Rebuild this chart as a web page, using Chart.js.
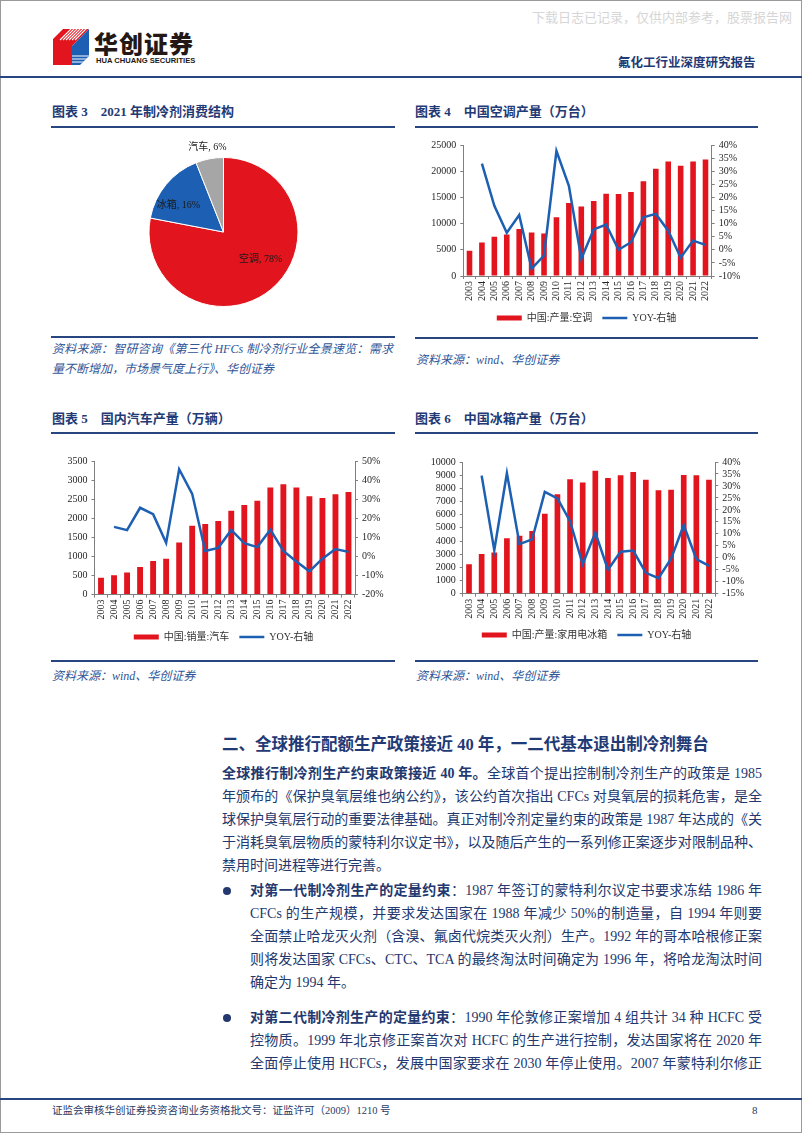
<!DOCTYPE html>
<html><head><meta charset="utf-8">
<script src="https://cdn.jsdelivr.net/npm/chart.js@4.4.1/dist/chart.umd.min.js"></script>
<style>
html,body{margin:0;padding:0;background:#fff;}
body{width:802px;height:1133px;position:relative;overflow:hidden;font-family:"Liberation Serif","Noto Sans CJK SC",serif;}
.frame{position:absolute;left:0;top:0;width:800px;height:1131px;border:1px solid #9a9a9a;}
.abs{position:absolute;white-space:nowrap;}
.hline{position:absolute;height:2px;background:#27457f;}
.title{position:absolute;font-family:"Liberation Serif","Noto Sans CJK SC";font-weight:700;font-size:13px;color:#1f3a75;line-height:16px;white-space:nowrap;}
.src{position:absolute;font-style:italic;font-size:12px;color:#2f5597;line-height:16px;white-space:nowrap;}
.body{position:absolute;font-size:14px;color:#22386e;line-height:23px;white-space:nowrap;font-weight:400;}
.j{text-align:justify;text-align-last:justify;}
.body b{font-weight:700;}
.dot{position:absolute;width:8px;height:8px;border-radius:50%;background:#22386e;}
canvas{position:absolute;}
</style></head>
<body>
<div class="frame"></div>
<div class="abs" style="left:532px;top:7px;font-family:'Noto Sans CJK SC';font-size:13px;color:#d6d6d6;">下载日志已记录，仅供内部参考，股票报告网</div>

<svg class="abs" style="left:52px;top:28px" width="40" height="40" viewBox="0 0 40 40">
  <defs>
    <clipPath id="cr"><polygon points="11,1 37,1 20,18 20,37 1,37 1,11"/></clipPath>
    <clipPath id="cb"><polygon points="20,18 37,1 37,28 28,37 20,37"/></clipPath>
  </defs>
  <polygon points="11,1 37,1 20,18 20,37 1,37 1,11" fill="#e2141d"/>
  <g clip-path="url(#cr)" stroke="#fff" stroke-width="1.1">
    <line x1="8" y1="12" x2="20" y2="0"/><line x1="11" y1="12" x2="23" y2="0"/><line x1="14" y1="12" x2="26" y2="0"/><line x1="17" y1="12" x2="29" y2="0"/><line x1="20" y1="12" x2="32" y2="0"/><line x1="23" y1="12" x2="35" y2="0"/>
  </g>
  <polygon points="20,18 37,1 37,28 28,37 20,37" fill="#1d5fb2"/>
  <g clip-path="url(#cb)" stroke="#fff" stroke-width="1.1">
    <line x1="20" y1="28" x2="37" y2="28"/><line x1="20" y1="31" x2="37" y2="31"/><line x1="20" y1="34" x2="37" y2="34"/>
  </g>
</svg>
<div class="abs" style="left:94px;top:28px;font-family:'Noto Sans CJK SC';font-weight:900;font-size:24px;line-height:30px;color:#231815;letter-spacing:1px;">华创证券</div>
<div class="abs" style="left:96px;top:57px;font-family:'Liberation Sans','DejaVu Sans';font-weight:700;font-size:7.6px;line-height:8px;color:#231815;">HUA CHUANG SECURITIES</div>
<div class="abs" style="left:618px;top:54px;font-family:'Noto Sans CJK SC';font-weight:700;font-size:12.5px;line-height:16px;color:#1f3a75;">氟化工行业深度研究报告</div>
<div class="hline" style="left:0;top:76px;width:802px;"></div>

<div class="title" style="left:52px;top:104px;">图表 3&nbsp;&nbsp;&nbsp;&nbsp;2021 年制冷剂消费结构</div>
<div class="title" style="left:415px;top:104px;">图表 4&nbsp;&nbsp;&nbsp;&nbsp;中国空调产量（万台）</div>
<div class="hline" style="left:51px;top:126px;width:344px;"></div>
<div class="hline" style="left:415px;top:126px;width:343px;"></div>

<canvas id="c3" style="left:52px;top:135px;width:343px;height:200px" width="343" height="200"></canvas>
<canvas id="c4" style="left:415px;top:135px;width:343px;height:198px" width="343" height="198"></canvas>

<div class="hline" style="left:51px;top:336px;width:344px;"></div>
<div class="hline" style="left:415px;top:337px;width:343px;"></div>
<div class="src j" style="left:52px;top:341px;width:341px;">资料来源：智研咨询《第三代 HFCs 制冷剂行业全景速览：需求</div>
<div class="src" style="left:52px;top:361px;">量不断增加，市场景气度上行》、华创证券</div>
<div class="src" style="left:416px;top:352px;">资料来源：wind、华创证券</div>

<div class="title" style="left:52px;top:411px;">图表 5&nbsp;&nbsp;&nbsp;&nbsp;国内汽车产量（万辆）</div>
<div class="title" style="left:415px;top:411px;">图表 6&nbsp;&nbsp;&nbsp;&nbsp;中国冰箱产量（万台）</div>
<div class="hline" style="left:51px;top:432px;width:344px;"></div>
<div class="hline" style="left:415px;top:432px;width:343px;"></div>

<canvas id="c5" style="left:52px;top:451px;width:343px;height:201px" width="343" height="201"></canvas>
<canvas id="c6" style="left:415px;top:452px;width:343px;height:198px" width="343" height="198"></canvas>

<div class="hline" style="left:51px;top:660px;width:344px;"></div>
<div class="hline" style="left:415px;top:660px;width:343px;"></div>
<div class="src" style="left:52px;top:668px;">资料来源：wind、华创证券</div>
<div class="src" style="left:416px;top:668px;">资料来源：wind、华创证券</div>

<div class="abs" style="left:222px;top:734px;font-family:'Liberation Serif','Noto Sans CJK SC';font-weight:700;font-size:16.5px;line-height:22px;color:#1f3a75;">二、全球推行配额生产政策接近 40 年，一二代基本退出制冷剂舞台</div>

<div class="body j" style="left:222px;top:762px;width:540px;"><b>全球推行制冷剂生产约束政策接近 40 年。</b>全球首个提出控制制冷剂生产的政策是 1985</div>
<div class="body j" style="left:222px;top:785px;width:540px;">年颁布的《保护臭氧层维也纳公约》，该公约首次指出 CFCs 对臭氧层的损耗危害，是全</div>
<div class="body j" style="left:222px;top:808px;width:540px;">球保护臭氧层行动的重要法律基础。真正对制冷剂定量约束的政策是 1987 年达成的《关</div>
<div class="body j" style="left:222px;top:831px;width:540px;">于消耗臭氧层物质的蒙特利尔议定书》，以及随后产生的一系列修正案逐步对限制品种、</div>
<div class="body" style="left:222px;top:854px;">禁用时间进程等进行完善。</div>

<div class="dot" style="left:223px;top:887px;"></div>
<div class="body j" style="left:250px;top:879px;width:512px;"><b>对第一代制冷剂生产的定量约束</b>：1987 年签订的蒙特利尔议定书要求冻结 1986 年</div>
<div class="body j" style="left:250px;top:902px;width:512px;">CFCs 的生产规模，并要求发达国家在 1988 年减少 50%的制造量，自 1994 年则要</div>
<div class="body j" style="left:250px;top:925px;width:512px;">全面禁止哈龙灭火剂（含溴、氟卤代烷类灭火剂）生产。1992 年的哥本哈根修正案</div>
<div class="body j" style="left:250px;top:948px;width:512px;">则将发达国家 CFCs、CTC、TCA 的最终淘汰时间确定为 1996 年，将哈龙淘汰时间</div>
<div class="body" style="left:250px;top:971px;">确定为 1994 年。</div>

<div class="dot" style="left:223px;top:1014px;"></div>
<div class="body j" style="left:250px;top:1006px;width:512px;"><b>对第二代制冷剂生产的定量约束</b>：1990 年伦敦修正案增加 4 组共计 34 种 HCFC 受</div>
<div class="body j" style="left:250px;top:1029px;width:512px;">控物质。1999 年北京修正案首次对 HCFC 的生产进行控制，发达国家将在 2020 年</div>
<div class="body j" style="left:250px;top:1052px;width:512px;">全面停止使用 HCFCs，发展中国家要求在 2030 年停止使用。2007 年蒙特利尔修正</div>

<div class="hline" style="left:0;top:1098px;width:802px;"></div>
<div class="abs" style="left:52px;top:1104px;font-size:10.5px;line-height:14px;color:#2a3a66;">证监会审核华创证券投资咨询业务资格批文号：证监许可（2009）1210 号</div>
<div class="abs" style="left:752px;top:1103px;font-size:11px;line-height:14px;color:#2a3a66;">8</div>

<script>
// ---------- DATA ----------
const years = ['2003','2004','2005','2006','2007','2008','2009','2010','2011','2012','2013','2014','2015','2016','2017','2018','2019','2020','2021','2022'];

const pieLabels = ['空调', '冰箱', '汽车'];
const pieValues = [78, 16, 6];

const acOutput = [4820, 6390, 7470, 7920, 8970, 8290, 8100, 11200, 13950, 13280, 14330, 15720, 15650, 16050, 18070, 20490, 21870, 21060, 21840, 22250];
const acYoy    = [null, 32.9, 16.8, 6.5, 13.3, -7.2, -2.2, 37.7, 24.4, -3.4, 7.8, 9.6, 0.0, 2.9, 12.4, 13.7, 7.3, -3.0, 3.5, 1.9];

const carSales = [439, 507, 576, 722, 879, 938, 1364, 1806, 1851, 1931, 2198, 2349, 2460, 2803, 2888, 2808, 2577, 2531, 2628, 2686];
const carYoy   = [null, 15.5, 13.8, 25.5, 22.1, 7.1, 45.7, 32.8, 2.8, 4.5, 13.9, 6.9, 4.9, 14.0, 2.9, -2.7, -7.8, -1.2, 3.9, 2.4];

const fridgeOutput = [2242, 3023, 3120, 4207, 4400, 4760, 6070, 7550, 8690, 8440, 9340, 8790, 8990, 9240, 8660, 7860, 7900, 9015, 8990, 8645];
const fridgeYoy    = [null, 34.3, 3.2, 35.3, 5.7, 7.7, 27.5, 24.8, 15.3, -2.7, 10.5, -5.0, 2.5, 3.0, -6.3, -8.5, -0.4, 13.7, -0.6, -3.4];

// axis ranges [min, max, step]
const acLeftRange = [0, 25000, 5000];
const acRightRange = [-10, 40, 5];
const carLeftRange = [0, 3500, 500];
const carRightRange = [-20, 50, 10];
const fridgeLeftRange = [0, 10000, 1000];
const fridgeRightRange = [-15, 40, 5];

const barLabels = ['中国:产量:空调', '中国:销量:汽车', '中国:产量:家用电冰箱'];
const lineLabel = 'YOY-右轴';

// ---------- STYLE ----------
const RED = '#e2141d', BLUE = '#1d5fb2', GRAY = '#a6a6a6';
const FONT = '"Liberation Serif","Noto Sans CJK SC",serif';
const TXT = '#262626', AXIS = '#7f7f7f';

// ---------- PIE ----------
const pieLabelPos = [{f: 0.62, d: -14}, {f: 0.70, d: -9.5}, {f: 1.16, d: 0}];
const pieLabelPlugin = {
  id: 'pieLabels',
  afterDatasetsDraw(chart) {
    const ctx = chart.ctx;
    const meta = chart.getDatasetMeta(0);
    ctx.save();
    ctx.font = '10px ' + FONT;
    ctx.fillStyle = '#1a1a1a';
    ctx.textAlign = 'center';
    ctx.textBaseline = 'middle';
    meta.data.forEach((arc, i) => {
      const p = arc.getProps(['x', 'y', 'startAngle', 'endAngle', 'outerRadius'], true);
      const a = (p.startAngle + p.endAngle) / 2 + pieLabelPos[i].d * Math.PI / 180;
      const r = p.outerRadius * pieLabelPos[i].f;
      const txt = chart.data.labels[i] + ', ' + chart.data.datasets[0].data[i] + '%';
      ctx.fillText(txt, p.x + Math.cos(a) * r, p.y + Math.sin(a) * r);
    });
    ctx.restore();
  }
};

new Chart(document.getElementById('c3'), {
  type: 'pie',
  data: { labels: pieLabels, datasets: [{ data: pieValues, backgroundColor: [RED, BLUE, GRAY], borderColor: '#fff', borderWidth: 1 }] },
  options: {
    responsive: false, animation: false,
    layout: { padding: { top: 22, bottom: 28, left: 0, right: 0 } },
    plugins: { legend: { display: false }, tooltip: { enabled: false } }
  },
  plugins: [pieLabelPlugin]
});

// ---------- COMBO CHARTS ----------
function combo(id, bars, yoy, barLabel, leftRange, rightRange, g) {
  new Chart(document.getElementById(id), {
    data: {
      labels: years,
      datasets: [
        { type: 'line', label: lineLabel, data: yoy, yAxisID: 'y1', borderColor: BLUE, backgroundColor: BLUE,
          borderWidth: 2.5, pointRadius: 0, tension: 0, order: 0 },
        { type: 'bar', label: barLabel, data: bars, yAxisID: 'y', backgroundColor: RED,
          barPercentage: 0.45, categoryPercentage: 1.0, order: 1 }
      ]
    },
    options: {
      responsive: false, animation: false,
      layout: { padding: { top: g.top, left: 0, right: 0, bottom: 0 } },
      scales: {
        x: {
          grid: { display: true, drawOnChartArea: false, drawTicks: true, tickLength: 3, color: AXIS, offset: true },
          border: { display: true, color: AXIS, width: 1 },
          ticks: { autoSkip: false, minRotation: 90, maxRotation: 90, padding: 2, color: TXT, font: { size: 10, family: FONT } },
          afterFit: s => { s.height = g.xh; }
        },
        y: {
          position: 'left', min: leftRange[0], max: leftRange[1],
          grid: { display: true, drawOnChartArea: false, drawTicks: true, tickLength: 3, color: AXIS },
          border: { display: true, color: AXIS, width: 1 },
          ticks: { stepSize: leftRange[2], autoSkip: false, padding: 4, color: TXT, font: { size: 10, family: FONT }, callback: v => String(v) },
          afterFit: s => { s.width = g.lw; }
        },
        y1: {
          position: 'right', min: rightRange[0], max: rightRange[1],
          grid: { display: true, drawOnChartArea: false, drawTicks: true, tickLength: 3, color: AXIS },
          border: { display: true, color: AXIS, width: 1 },
          ticks: { stepSize: rightRange[2], autoSkip: false, padding: 4, color: TXT, font: { size: 10, family: FONT }, callback: v => v + '%' },
          afterFit: s => { s.width = g.rw; }
        }
      },
      plugins: {
        tooltip: { enabled: false },
        legend: {
          position: 'bottom',
          labels: {
            usePointStyle: true, pointStyleWidth: 25, boxHeight: 5, padding: 10, color: '#333',
            font: { size: 10, family: FONT },
            generateLabels: (chart) => {
              const ds = chart.data.datasets;
              return [
                { text: ds[1].label, fillStyle: RED, strokeStyle: RED, lineWidth: 0, pointStyle: 'rect', datasetIndex: 1, hidden: false, fontColor: '#333' },
                { text: ds[0].label, fillStyle: BLUE, strokeStyle: BLUE, lineWidth: 2.5, pointStyle: 'line', datasetIndex: 0, hidden: false, fontColor: '#333' }
              ];
            }
          }
        }
      }
    }
  });
}

combo('c4', acOutput, acYoy, barLabels[0], acLeftRange, acRightRange, { top: 9, xh: 27, lw: 48.3, rw: 46.3 });
combo('c5', carSales, carYoy, barLabels[1], carLeftRange, carRightRange, { top: 9, xh: 27.4, lw: 42.5, rw: 40 });
combo('c6', fridgeOutput, fridgeYoy, barLabels[2], fridgeLeftRange, fridgeRightRange, { top: 9, xh: 26.3, lw: 47.7, rw: 42.7 });
</script>
</body></html>
